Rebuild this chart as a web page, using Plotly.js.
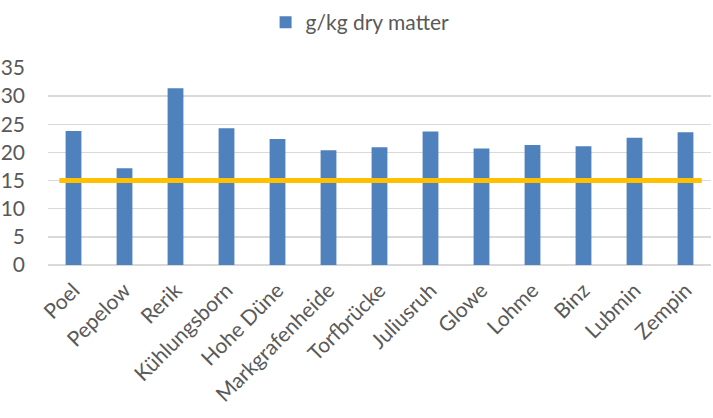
<!DOCTYPE html>
<html><head><meta charset="utf-8">
<script src="https://cdn.plot.ly/plotly-3.0.1.min.js"></script>
<style>html,body{margin:0;padding:0;background:#fff}#chart{width:713px;height:418px}</style>
</head><body><div id="chart"></div>
<script>
const sites = ["Poel","Pepelow","Rerik","Kühlungsborn","Hohe Düne","Markgrafenheide","Torfbrücke","Juliusruh","Glowe","Lohme","Binz","Lubmin","Zempin"];
const values = [23.8,17.2,31.4,24.3,22.4,20.4,20.9,23.7,20.7,21.3,21.1,22.6,23.6];
const threshold = 15;
const seriesName = "g/kg dry matter";

const font = {family:"Lato, 'Open Sans', sans-serif", size:21, color:"#595959"};
const data = [{
  type:"bar", x:sites, y:values, name:seriesName,
  marker:{color:"#4F81BD"}
}];
const layout = {
  width:713, height:418,
  margin:{l:48, r:2, t:68, b:153, autoexpand:false},
  paper_bgcolor:"#fff", plot_bgcolor:"#fff",
  font:font,
  bargap:0.69,
  showlegend:true,
  legend:{orientation:"h", xref:"container", yref:"container", x:0.3725, xanchor:"left", y:0.995, yanchor:"top", font:font},
  xaxis:{tickangle:-45, showgrid:false, zeroline:false, showline:false, ticks:"", ticklabelstandoff:8, tickfont:font},
  yaxis:{range:[0,35], dtick:5, showgrid:true, gridcolor:"#D9D9D9", gridwidth:1.5,
         zeroline:true, zerolinecolor:"#D9D9D9", zerolinewidth:1.5, showline:false,
         ticks:"", ticklabelstandoff:22, tickfont:font},
  shapes:[{type:"line", xref:"paper", yref:"y", x0:0.017, x1:0.986, y0:threshold, y1:threshold,
           line:{color:"#FFC000", width:5}}]
};
Plotly.newPlot("chart", data, layout, {displayModeBar:false, staticPlot:true});
</script></body></html>
